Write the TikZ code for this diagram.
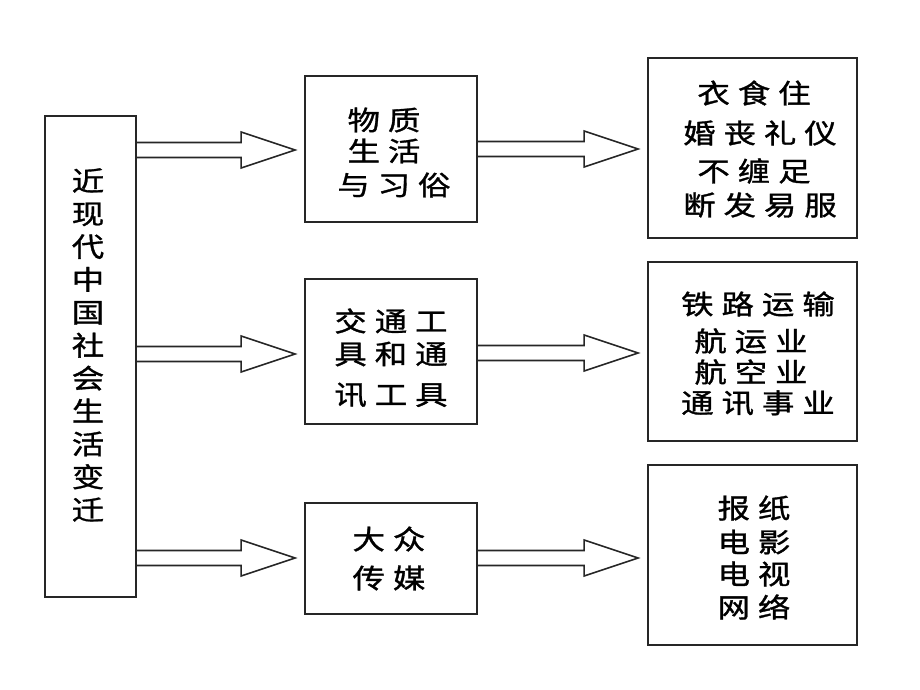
\documentclass[tikz,border=0pt]{standalone}
\usepackage{fontspec}
\newfontfamily\cjk{Noto Sans CJK SC}[FakeStretch=1.2,FakeBold=1.2]
\usetikzlibrary{calc}
\newlength\lsamt
\setlength\lsamt{8pt}
\def\lsp#1{\lspA#1\relax}
\def\lspA#1{#1\lspB}
\def\lspB#1{\ifx\relax#1\else\kern\lsamt#1\expandafter\lspB\fi}
\newcommand\barrow[2]{%
  \draw[arr] let \p1=#1, \p2=#2 in
    (\x1,\y1+7.5pt) -- (\x2-54pt,\y1+7.5pt) -- (\x2-54pt,\y1+18pt) -- (\x2,\y1)
    -- (\x2-54pt,\y1-18pt) -- (\x2-54pt,\y1-7.5pt) -- (\x1,\y1-7.5pt);}
\tikzset{
  box/.style={draw=black!85,line width=1.9pt,inner sep=0pt,fill=white},
  arr/.style={draw=black!85,line width=1.6pt,line join=miter},
  txt/.style={inner sep=0pt,font=\cjk\fontsize{27}{27}\selectfont}
}
\begin{document}
\begin{tikzpicture}[x=1pt,y=-1pt]
\useasboundingbox[fill=white] (0,0) rectangle (920,690);
% boxes
\node[box,minimum width=91pt,minimum height=481pt] (L) at (90.5,356.5) {};
\node[box,minimum width=172pt,minimum height=146pt] (M1) at (391,149) {};
\node[box,minimum width=172pt,minimum height=145pt] (M2) at (391,351.5) {};
\node[box,minimum width=172pt,minimum height=111pt] (M3) at (391,558.5) {};
\node[box,minimum width=209pt,minimum height=180pt] (R1) at (752.5,148) {};
\node[box,minimum width=209pt,minimum height=179pt] (R2) at (752.5,351.5) {};
\node[box,minimum width=209pt,minimum height=180pt] (R3) at (752.5,555) {};
% arrow anchors
\coordinate (a1s) at (L.east |- 0,150);
\coordinate (a1e) at ($(M1.west |- 0,150)+(-9pt,0)$);
\coordinate (a2s) at (L.east |- 0,354);
\coordinate (a2e) at ($(M2.west |- 0,354)+(-9pt,0)$);
\coordinate (a3s) at (L.east |- 0,558);
\coordinate (a3e) at ($(M3.west |- 0,558)+(-9pt,0)$);
\coordinate (b1s) at (M1.east |- 0,149);
\coordinate (b1e) at ($(R1.west |- 0,149)+(-9pt,0)$);
\coordinate (b2s) at (M2.east |- 0,353);
\coordinate (b2e) at ($(R2.west |- 0,353)+(-9pt,0)$);
\coordinate (b3s) at (M3.east |- 0,558);
\coordinate (b3e) at ($(R3.west |- 0,558)+(-9pt,0)$);
\barrow{(a1s)}{(a1e)}
\barrow{(a2s)}{(a2e)}
\barrow{(a3s)}{(a3e)}
\barrow{(b1s)}{(b1e)}
\barrow{(b2s)}{(b2e)}
\barrow{(b3s)}{(b3e)}
% left text
\node[txt,align=center,font=\cjk\fontsize{27}{32.9}\selectfont] (tL) at (88,345)
  {近\\现\\代\\中\\国\\社\\会\\生\\活\\变\\迁};
% M1
\node[txt] (t11) at (384,120) {\lsp{物质}};
\node[txt] (t12) at (384,151) {\lsp{生活}};
\node[txt] (t13) at (394,185) {\lsp{与习俗}};
% R1
\node[txt] (t21) at (754,93) {\lsp{衣食住}};
\node[txt] (t22) at (760,133) {\lsp{婚丧礼仪}};
\node[txt] (t23) at (754,171) {\lsp{不缠足}};
\node[txt] (t24) at (760,205) {\lsp{断发易服}};
% M2
\node[txt] (t31) at (391,321) {\lsp{交通工}};
\node[txt] (t32) at (391,354) {\lsp{具和通}};
\node[txt] (t33) at (391,395) {\lsp{讯工具}};
% R2
\node[txt] (t41) at (758,304) {\lsp{铁路运输}};
\node[txt] (t42) at (751,341) {\lsp{航运业}};
\node[txt] (t43) at (751,372) {\lsp{航空业}};
\node[txt] (t44) at (758,403) {\lsp{通讯事业}};
% M3
\node[txt] (t51) at (389,539) {\lsp{大众}};
\node[txt] (t52) at (389,578) {\lsp{传媒}};
% R3
\node[txt] (t61) at (754,508) {\lsp{报纸}};
\node[txt] (t62) at (754,542) {\lsp{电影}};
\node[txt] (t63) at (754,574) {\lsp{电视}};
\node[txt] (t64) at (754,607) {\lsp{网络}};
\end{tikzpicture}
\end{document}
